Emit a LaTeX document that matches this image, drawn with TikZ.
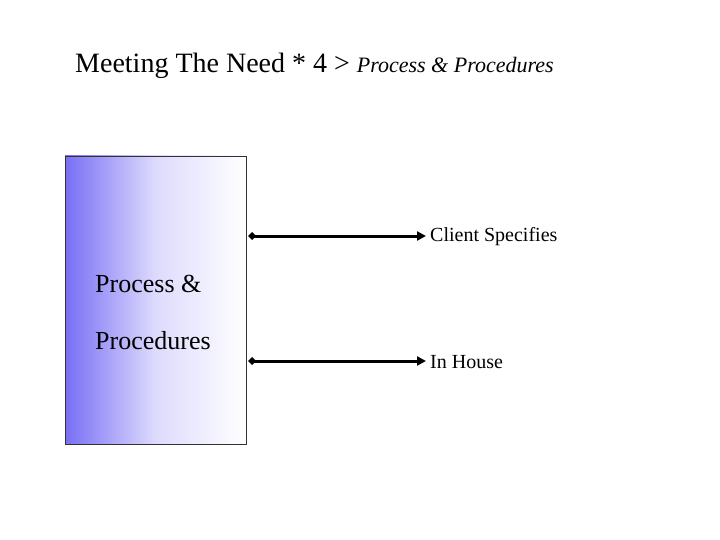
\documentclass[tikz,border=0pt]{standalone}
\usepackage{fontspec}
\setmainfont{Liberation Serif}
\usetikzlibrary{arrows.meta}
\definecolor{lblue}{RGB}{120,110,245}
\begin{document}
\begin{tikzpicture}[x=1pt,y=-1pt,
  conn/.style={line width=3pt,{Diamond[length=8pt,width=8pt]}-{Triangle[length=9pt,width=9pt]}},
  lbl/.style={anchor=west,font=\fontsize{20}{24}\selectfont,inner sep=0pt}]
\useasboundingbox (0,0) rectangle (720,540);
\node[anchor=west,inner sep=0pt] (title) at (75,66) {\fontsize{28}{32}\selectfont Meeting The Need * 4 > \textit{\fontsize{22}{26}\selectfont Process \& Procedures}};
\shade[left color=lblue,right color=white,middle color=white!75!lblue] (65,156) rectangle (246,444);
\draw[black!80,line width=0.8pt] (65,156) rectangle (246,444);
\coordinate (b) at (246,300);
\node[lbl,font=\fontsize{26}{30}\selectfont] (p1) at (95,284) {Process \&};
\node[lbl,font=\fontsize{26}{30}\selectfont] (p2) at (95,341) {Procedures};
\coordinate (s1) at (248,236); \coordinate (e1) at (426,236);
\coordinate (s2) at (248,361); \coordinate (e2) at (426,361);
\node[lbl] (c) at (430,237) {Client Specifies};
\node[lbl] (h) at (430,362) {In House};
\draw[conn] (s1) -- (e1);
\draw[conn] (s2) -- (e2);
\end{tikzpicture}
\end{document}
